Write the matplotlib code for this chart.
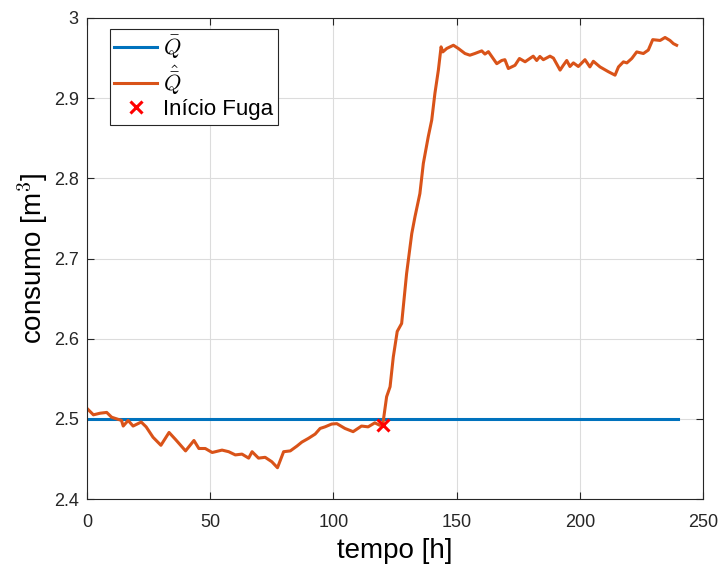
import numpy as np
import matplotlib.pyplot as plt

plt.rcParams.update({
    "font.family": ["Liberation Sans", "DejaVu Sans"],
    "mathtext.fontset": "cm",
    "axes.edgecolor": "#262626",
    "xtick.color": "#262626",
    "ytick.color": "#262626",
})

# reference consumption (constant)
t_ref = [0, 240]
q_ref = [2.5, 2.5]

# estimated consumption
t_est = [0, 2.6, 5.3, 8, 10, 14, 14.7, 16.7, 18.7, 22, 24, 26.8, 30, 33.3, 36,
         40, 43.4, 45.4, 48, 50.8, 54.8, 57.5, 60.2, 62.9, 65.6, 67, 69.6, 72.3,
         75, 77.3, 79.8, 82.5, 85.2, 87.2, 89.9, 92.6, 94.6, 96.6, 99.3, 101.4,
         104.7, 108, 111.4, 114.1, 116.8, 118.8, 120,
         121.6, 123, 124.3, 125.9, 127.7, 129.7, 131.8, 133.1, 135.1, 136.5,
         138.5, 139.9, 141.2, 142.6, 143.7, 144.4, 146, 148.7, 150.7, 153.4,
         155.4, 157.4, 160.2, 161.5, 162.9, 166.3, 168.3, 169.6, 171, 173.7,
         175.5, 177.8, 181.1, 182.5, 183.8, 185.2, 187.9, 189.3, 192, 193.3,
         194.7, 196, 197.4, 199.4, 202.1, 204.1, 205.5, 208.2, 211.6, 214.3,
         215.7, 217.7, 219.1, 221.1, 223.1, 225.8, 227.8, 229.6, 232.6, 234.6,
         236.6, 238, 239.3]
q_est = [2.513, 2.505, 2.507, 2.508, 2.502, 2.498, 2.491, 2.498, 2.491, 2.496,
         2.490, 2.477, 2.467, 2.483, 2.474, 2.460, 2.473, 2.463, 2.463, 2.458,
         2.461, 2.459, 2.455, 2.456, 2.451, 2.459, 2.451, 2.452, 2.4465, 2.439,
         2.459, 2.460, 2.466, 2.471, 2.4757, 2.481, 2.488, 2.490, 2.4935, 2.494,
         2.488, 2.484, 2.491, 2.490, 2.495, 2.492, 2.492,
         2.5276, 2.540, 2.577, 2.609, 2.619, 2.681, 2.731, 2.752, 2.781, 2.8186,
         2.852, 2.8726, 2.906, 2.935, 2.964, 2.9577, 2.962, 2.966, 2.962, 2.9557,
         2.9536, 2.9557, 2.959, 2.955, 2.958, 2.943, 2.947, 2.948, 2.937, 2.941,
         2.9495, 2.9454, 2.9524, 2.947, 2.952, 2.948, 2.9524, 2.950, 2.935, 2.941,
         2.947, 2.9395, 2.944, 2.9395, 2.948, 2.939, 2.946, 2.939, 2.933, 2.9287,
         2.939, 2.9453, 2.944, 2.9495, 2.9577, 2.9557, 2.960, 2.973, 2.972, 2.9757,
         2.972, 2.968, 2.966]

# leak start
t_leak = 120
q_leak = 2.492

fig = plt.figure(figsize=(7.21, 5.66), dpi=100)
ax = fig.add_axes([87 / 721, 1 - 499 / 566, 616 / 721, 481 / 566])

ax.plot(t_ref, q_ref, color=(0, 0.447, 0.741), lw=2.2, label=r"$\bar{Q}$")
ax.plot(t_est, q_est, color=(0.85, 0.325, 0.098), lw=2.2, label=r"$\hat{\bar{Q}}$")
ax.plot(t_leak, q_leak, "x", color="red", ms=8, mew=2.2, label="Início Fuga", zorder=5)

ax.set_xlim(0, 250)
ax.set_ylim(2.4, 3.0)
ax.set_xticks(np.arange(0, 251, 50))
ax.set_yticks(np.arange(2.4, 3.01, 0.1))
ax.set_yticklabels(["2.4", "2.5", "2.6", "2.7", "2.8", "2.9", "3"])
ax.tick_params(direction="in", top=True, right=True, labelsize=13, length=5)
ax.tick_params(axis="x", pad=11)
ax.tick_params(axis="y", pad=6)
ax.grid(True, color="#dcdcdc", lw=0.8)
ax.set_axisbelow(True)

ax.set_xlabel("tempo [h]", fontsize=20, labelpad=5)
ax.set_ylabel(r"consumo [m$^3$]", fontsize=20, labelpad=3)

leg = ax.legend(loc="upper left", bbox_to_anchor=(23 / 616, 470 / 481), fontsize=16,
                borderaxespad=0, fancybox=False, edgecolor="#262626", framealpha=1,
                handlelength=1.9, handletextpad=0.3, borderpad=0.2, labelspacing=0.1)
leg.get_frame().set_linewidth(0.8)

plt.savefig("out.png", dpi=100)
